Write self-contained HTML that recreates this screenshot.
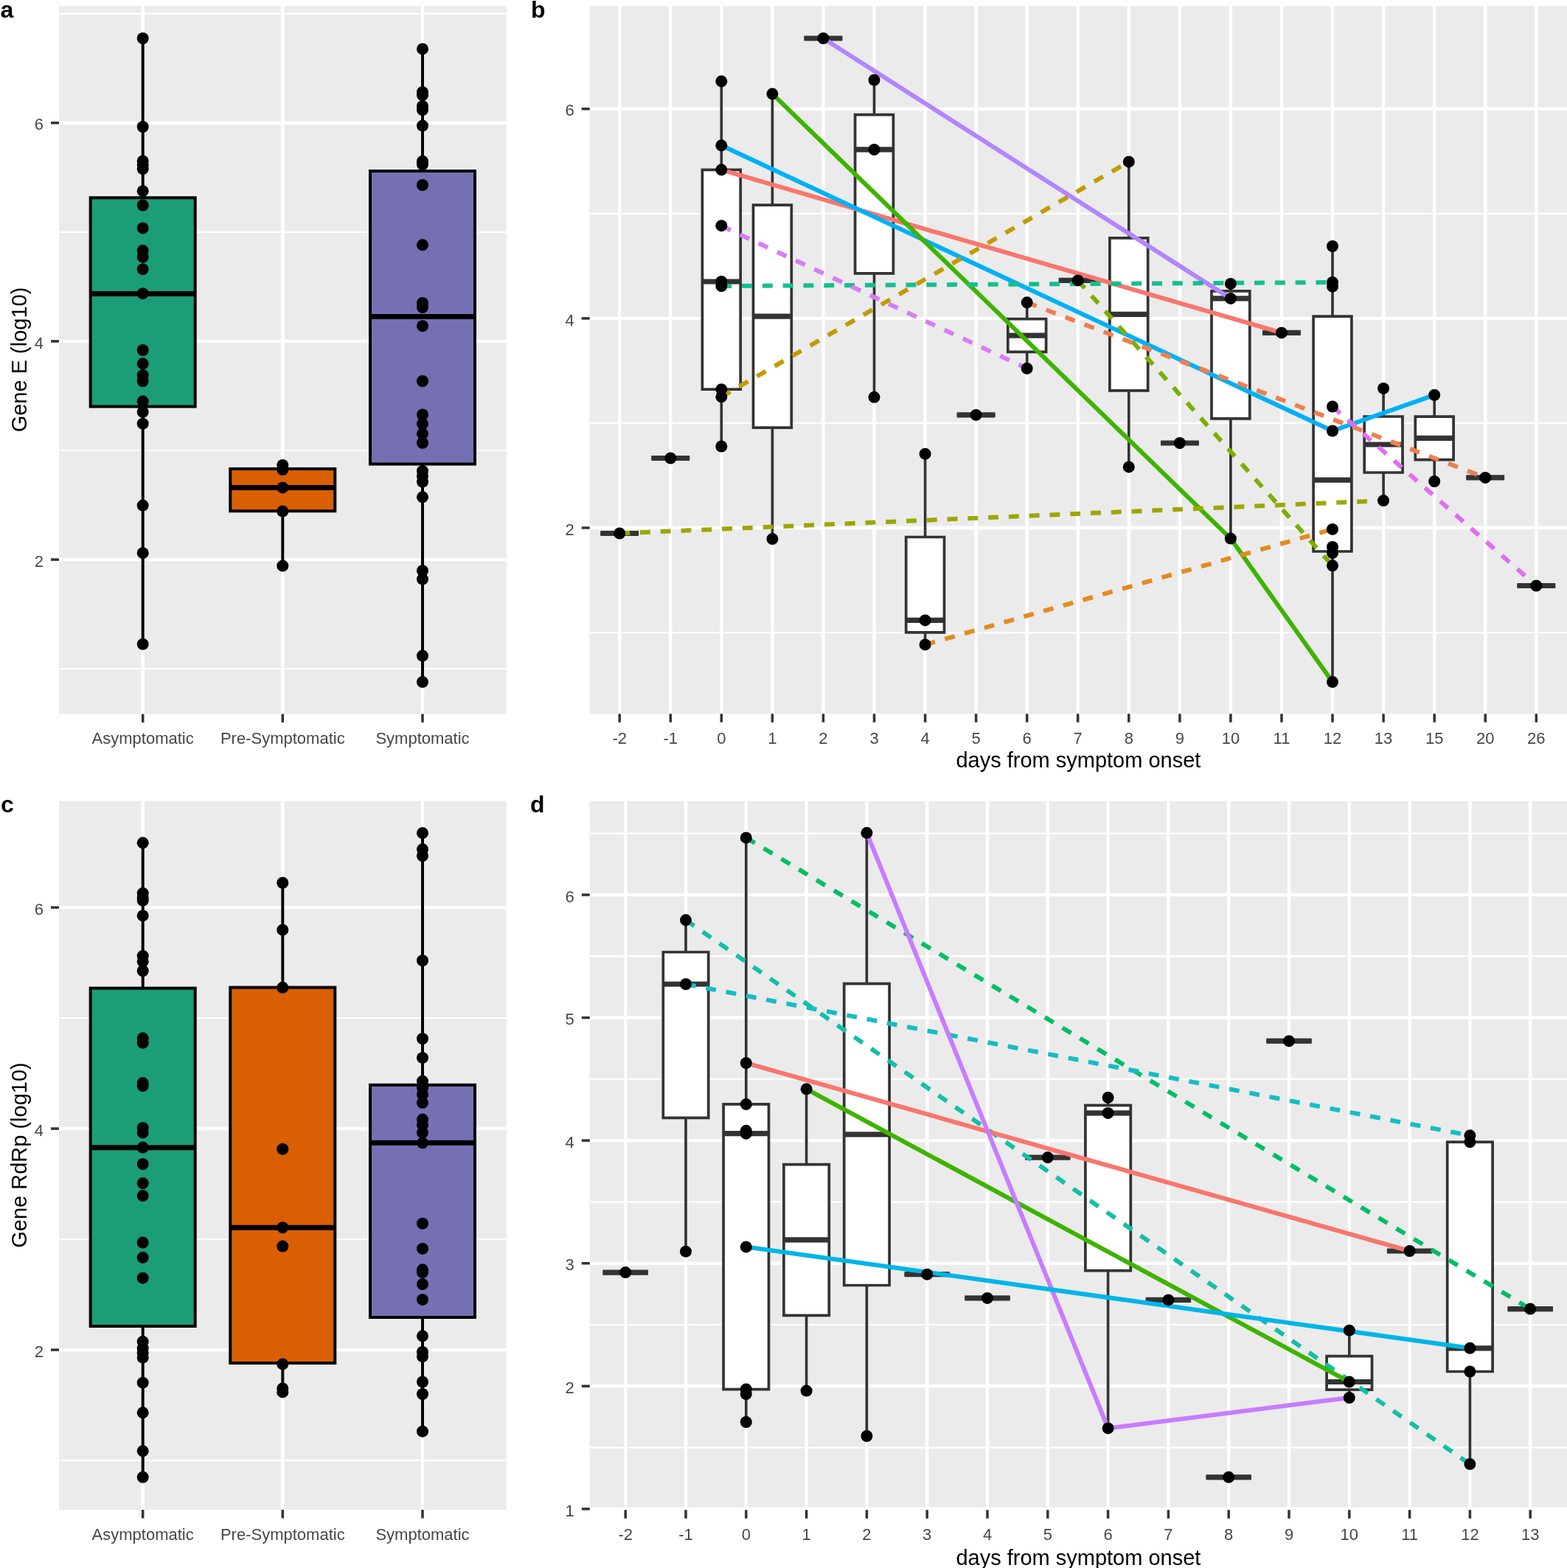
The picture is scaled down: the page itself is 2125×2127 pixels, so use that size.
<!DOCTYPE html><html><head><meta charset="utf-8"><title>Figure</title><style>html,body{margin:0;padding:0;background:#fff;}svg{display:block;}.tk{font-family:"Liberation Sans",Arial,sans-serif;font-size:22px;fill:#474747;}.ti{font-family:"Liberation Sans",Arial,sans-serif;font-size:29px;fill:#000;}.pl{font-family:"Liberation Sans",Arial,sans-serif;font-size:32px;font-weight:bold;fill:#000;}</style></head><body>
<svg width="2125" height="2127" viewBox="0 0 2125 2127">
<rect width="2125" height="2127" fill="#FFFFFF"/>
<defs>
<clipPath id="ca"><rect x="80" y="8" width="606.8" height="960.5"/></clipPath>
<clipPath id="cb"><rect x="799.7" y="8" width="1326.3" height="960.3"/></clipPath>
<clipPath id="cc"><rect x="80" y="1086.6" width="606.6" height="961.4"/></clipPath>
<clipPath id="cd"><rect x="799.8" y="1086.9" width="1326.2" height="961.4"/></clipPath>
</defs>
<text x="0.5" y="24" class="pl">a</text>
<text x="720" y="24" class="pl">b</text>
<text x="1" y="1101.5" class="pl">c</text>
<text x="719" y="1101.5" class="pl">d</text>
<rect x="80" y="8" width="606.8" height="960.5" fill="#EBEBEB"/>
<g clip-path="url(#ca)" stroke="#FFFFFF" fill="none">
<line x1="80" x2="686.8" y1="907.2" y2="907.2" stroke-width="2.2"/>
<line x1="80" x2="686.8" y1="611" y2="611" stroke-width="2.2"/>
<line x1="80" x2="686.8" y1="314.8" y2="314.8" stroke-width="2.2"/>
<line x1="80" x2="686.8" y1="18.6" y2="18.6" stroke-width="2.2"/>
<line x1="80" x2="686.8" y1="759.1" y2="759.1" stroke-width="4.4"/>
<line x1="80" x2="686.8" y1="462.9" y2="462.9" stroke-width="4.4"/>
<line x1="80" x2="686.8" y1="166.7" y2="166.7" stroke-width="4.4"/>
<line x1="193.7" x2="193.7" y1="8" y2="968.5" stroke-width="4.4"/>
<line x1="383.3" x2="383.3" y1="8" y2="968.5" stroke-width="4.4"/>
<line x1="573" x2="573" y1="8" y2="968.5" stroke-width="4.4"/>
</g>
<g clip-path="url(#ca)">
<line x1="193.7" x2="193.7" y1="52" y2="268.2" stroke="#000" stroke-width="4.0"/>
<line x1="193.7" x2="193.7" y1="551.5" y2="873.8" stroke="#000" stroke-width="4.0"/>
<path d="M122.7 268.2H264.7V551.5H122.7Z" fill="#1B9E77" stroke="#000" stroke-width="4.0" stroke-linejoin="miter"/>
<line x1="122.7" x2="264.7" y1="398.5" y2="398.5" stroke="#000" stroke-width="7.0"/>
<line x1="383.3" x2="383.3" y1="631" y2="635.9" stroke="#000" stroke-width="4.0"/>
<line x1="383.3" x2="383.3" y1="693.3" y2="767.6" stroke="#000" stroke-width="4.0"/>
<path d="M312.3 635.9H454.3V693.3H312.3Z" fill="#D95F02" stroke="#000" stroke-width="4.0" stroke-linejoin="miter"/>
<line x1="312.3" x2="454.3" y1="661.4" y2="661.4" stroke="#000" stroke-width="7.0"/>
<line x1="573" x2="573" y1="66.4" y2="231.9" stroke="#000" stroke-width="4.0"/>
<line x1="573" x2="573" y1="629.4" y2="925.1" stroke="#000" stroke-width="4.0"/>
<path d="M502 231.9H644V629.4H502Z" fill="#7570B3" stroke="#000" stroke-width="4.0" stroke-linejoin="miter"/>
<line x1="502" x2="644" y1="429.5" y2="429.5" stroke="#000" stroke-width="7.0"/>
<g fill="#000">
<circle cx="193.7" cy="52" r="8.0"/>
<circle cx="193.7" cy="172" r="8.0"/>
<circle cx="193.7" cy="218.5" r="8.0"/>
<circle cx="193.7" cy="223.5" r="8.0"/>
<circle cx="193.7" cy="229" r="8.0"/>
<circle cx="193.7" cy="259.2" r="8.0"/>
<circle cx="193.7" cy="278.5" r="8.0"/>
<circle cx="193.7" cy="309.4" r="8.0"/>
<circle cx="193.7" cy="339.8" r="8.0"/>
<circle cx="193.7" cy="348.7" r="8.0"/>
<circle cx="193.7" cy="365.2" r="8.0"/>
<circle cx="193.7" cy="398.2" r="8.0"/>
<circle cx="193.7" cy="475" r="8.0"/>
<circle cx="193.7" cy="493.3" r="8.0"/>
<circle cx="193.7" cy="509" r="8.0"/>
<circle cx="193.7" cy="517" r="8.0"/>
<circle cx="193.7" cy="544.3" r="8.0"/>
<circle cx="193.7" cy="558.8" r="8.0"/>
<circle cx="193.7" cy="574.7" r="8.0"/>
<circle cx="193.7" cy="685.6" r="8.0"/>
<circle cx="193.7" cy="750.2" r="8.0"/>
<circle cx="193.7" cy="873.8" r="8.0"/>
<circle cx="383.3" cy="631" r="8.0"/>
<circle cx="383.3" cy="637" r="8.0"/>
<circle cx="383.3" cy="661.4" r="8.0"/>
<circle cx="383.3" cy="693.5" r="8.0"/>
<circle cx="383.3" cy="767.6" r="8.0"/>
<circle cx="573" cy="66.4" r="8.0"/>
<circle cx="573" cy="125" r="8.0"/>
<circle cx="573" cy="129" r="8.0"/>
<circle cx="573" cy="144" r="8.0"/>
<circle cx="573" cy="149" r="8.0"/>
<circle cx="573" cy="170.6" r="8.0"/>
<circle cx="573" cy="218.8" r="8.0"/>
<circle cx="573" cy="223" r="8.0"/>
<circle cx="573" cy="251" r="8.0"/>
<circle cx="573" cy="332.3" r="8.0"/>
<circle cx="573" cy="411" r="8.0"/>
<circle cx="573" cy="417" r="8.0"/>
<circle cx="573" cy="442.2" r="8.0"/>
<circle cx="573" cy="517" r="8.0"/>
<circle cx="573" cy="562.5" r="8.0"/>
<circle cx="573" cy="574.9" r="8.0"/>
<circle cx="573" cy="588.3" r="8.0"/>
<circle cx="573" cy="600.8" r="8.0"/>
<circle cx="573" cy="639" r="8.0"/>
<circle cx="573" cy="646" r="8.0"/>
<circle cx="573" cy="653.6" r="8.0"/>
<circle cx="573" cy="674.3" r="8.0"/>
<circle cx="573" cy="774.2" r="8.0"/>
<circle cx="573" cy="785.6" r="8.0"/>
<circle cx="573" cy="889.6" r="8.0"/>
<circle cx="573" cy="925.1" r="8.0"/>
</g></g>
<line x1="69" x2="80" y1="166.7" y2="166.7" stroke="#333333" stroke-width="3.5"/>
<text x="59" y="176.4" text-anchor="end" class="tk">6</text>
<line x1="69" x2="80" y1="462.9" y2="462.9" stroke="#333333" stroke-width="3.5"/>
<text x="59" y="472.6" text-anchor="end" class="tk">4</text>
<line x1="69" x2="80" y1="759.1" y2="759.1" stroke="#333333" stroke-width="3.5"/>
<text x="59" y="768.8" text-anchor="end" class="tk">2</text>
<line x1="193.7" x2="193.7" y1="968.5" y2="980" stroke="#333333" stroke-width="3.5"/>
<text x="193.7" y="1009" text-anchor="middle" class="tk">Asymptomatic</text>
<line x1="383.3" x2="383.3" y1="968.5" y2="980" stroke="#333333" stroke-width="3.5"/>
<text x="383.3" y="1009" text-anchor="middle" class="tk">Pre-Symptomatic</text>
<line x1="573" x2="573" y1="968.5" y2="980" stroke="#333333" stroke-width="3.5"/>
<text x="573" y="1009" text-anchor="middle" class="tk">Symptomatic</text>
<text class="ti" text-anchor="middle" transform="translate(35.5 488) rotate(-90)">Gene E (log10)</text>
<rect x="80" y="1086.6" width="606.6" height="961.4" fill="#EBEBEB"/>
<g clip-path="url(#cc)" stroke="#FFFFFF" fill="none">
<line x1="80" x2="686.6" y1="1981.1" y2="1981.1" stroke-width="2.2"/>
<line x1="80" x2="686.6" y1="1681.1" y2="1681.1" stroke-width="2.2"/>
<line x1="80" x2="686.6" y1="1381" y2="1381" stroke-width="2.2"/>
<line x1="80" x2="686.6" y1="1081" y2="1081" stroke-width="2.2"/>
<line x1="80" x2="686.6" y1="1831.1" y2="1831.1" stroke-width="4.4"/>
<line x1="80" x2="686.6" y1="1531" y2="1531" stroke-width="4.4"/>
<line x1="80" x2="686.6" y1="1231" y2="1231" stroke-width="4.4"/>
<line x1="193.7" x2="193.7" y1="1086.6" y2="2048" stroke-width="4.4"/>
<line x1="383.3" x2="383.3" y1="1086.6" y2="2048" stroke-width="4.4"/>
<line x1="573" x2="573" y1="1086.6" y2="2048" stroke-width="4.4"/>
</g>
<g clip-path="url(#cc)">
<line x1="193.7" x2="193.7" y1="1143.3" y2="1340.6" stroke="#000" stroke-width="4.0"/>
<line x1="193.7" x2="193.7" y1="1799" y2="2003.8" stroke="#000" stroke-width="4.0"/>
<path d="M122.7 1340.6H264.7V1799H122.7Z" fill="#1B9E77" stroke="#000" stroke-width="4.0" stroke-linejoin="miter"/>
<line x1="122.7" x2="264.7" y1="1556.8" y2="1556.8" stroke="#000" stroke-width="7.0"/>
<line x1="383.3" x2="383.3" y1="1197.5" y2="1339.6" stroke="#000" stroke-width="4.0"/>
<line x1="383.3" x2="383.3" y1="1849.1" y2="1888.4" stroke="#000" stroke-width="4.0"/>
<path d="M312.3 1339.6H454.3V1849.1H312.3Z" fill="#D95F02" stroke="#000" stroke-width="4.0" stroke-linejoin="miter"/>
<line x1="312.3" x2="454.3" y1="1665.2" y2="1665.2" stroke="#000" stroke-width="7.0"/>
<line x1="573" x2="573" y1="1130.1" y2="1471.7" stroke="#000" stroke-width="4.0"/>
<line x1="573" x2="573" y1="1787" y2="1941.7" stroke="#000" stroke-width="4.0"/>
<path d="M502 1471.7H644V1787H502Z" fill="#7570B3" stroke="#000" stroke-width="4.0" stroke-linejoin="miter"/>
<line x1="502" x2="644" y1="1550.3" y2="1550.3" stroke="#000" stroke-width="7.0"/>
<g fill="#000">
<circle cx="193.7" cy="1143.3" r="8.0"/>
<circle cx="193.7" cy="1211.7" r="8.0"/>
<circle cx="193.7" cy="1218" r="8.0"/>
<circle cx="193.7" cy="1221.5" r="8.0"/>
<circle cx="193.7" cy="1242.2" r="8.0"/>
<circle cx="193.7" cy="1296.7" r="8.0"/>
<circle cx="193.7" cy="1304.3" r="8.0"/>
<circle cx="193.7" cy="1317" r="8.0"/>
<circle cx="193.7" cy="1408.3" r="8.0"/>
<circle cx="193.7" cy="1414.6" r="8.0"/>
<circle cx="193.7" cy="1469.1" r="8.0"/>
<circle cx="193.7" cy="1473" r="8.0"/>
<circle cx="193.7" cy="1530" r="8.0"/>
<circle cx="193.7" cy="1536.4" r="8.0"/>
<circle cx="193.7" cy="1556.6" r="8.0"/>
<circle cx="193.7" cy="1579" r="8.0"/>
<circle cx="193.7" cy="1605.1" r="8.0"/>
<circle cx="193.7" cy="1622.1" r="8.0"/>
<circle cx="193.7" cy="1685.5" r="8.0"/>
<circle cx="193.7" cy="1705.8" r="8.0"/>
<circle cx="193.7" cy="1733.7" r="8.0"/>
<circle cx="193.7" cy="1820" r="8.0"/>
<circle cx="193.7" cy="1828.8" r="8.0"/>
<circle cx="193.7" cy="1835.2" r="8.0"/>
<circle cx="193.7" cy="1841.5" r="8.0"/>
<circle cx="193.7" cy="1875.7" r="8.0"/>
<circle cx="193.7" cy="1916.3" r="8.0"/>
<circle cx="193.7" cy="1968.3" r="8.0"/>
<circle cx="193.7" cy="2003.8" r="8.0"/>
<circle cx="383.3" cy="1197.5" r="8.0"/>
<circle cx="383.3" cy="1261.4" r="8.0"/>
<circle cx="383.3" cy="1339.6" r="8.0"/>
<circle cx="383.3" cy="1558.7" r="8.0"/>
<circle cx="383.3" cy="1665.2" r="8.0"/>
<circle cx="383.3" cy="1690.6" r="8.0"/>
<circle cx="383.3" cy="1850.4" r="8.0"/>
<circle cx="383.3" cy="1883.4" r="8.0"/>
<circle cx="383.3" cy="1888.4" r="8.0"/>
<circle cx="573" cy="1130.1" r="8.0"/>
<circle cx="573" cy="1152.1" r="8.0"/>
<circle cx="573" cy="1161" r="8.0"/>
<circle cx="573" cy="1303" r="8.0"/>
<circle cx="573" cy="1409" r="8.0"/>
<circle cx="573" cy="1434.9" r="8.0"/>
<circle cx="573" cy="1466.6" r="8.0"/>
<circle cx="573" cy="1475.5" r="8.0"/>
<circle cx="573" cy="1484.4" r="8.0"/>
<circle cx="573" cy="1495.8" r="8.0"/>
<circle cx="573" cy="1518.6" r="8.0"/>
<circle cx="573" cy="1526.2" r="8.0"/>
<circle cx="573" cy="1536.4" r="8.0"/>
<circle cx="573" cy="1550.3" r="8.0"/>
<circle cx="573" cy="1659.7" r="8.0"/>
<circle cx="573" cy="1693.9" r="8.0"/>
<circle cx="573" cy="1722.3" r="8.0"/>
<circle cx="573" cy="1726.1" r="8.0"/>
<circle cx="573" cy="1742.1" r="8.0"/>
<circle cx="573" cy="1762.9" r="8.0"/>
<circle cx="573" cy="1812.3" r="8.0"/>
<circle cx="573" cy="1833.9" r="8.0"/>
<circle cx="573" cy="1840.2" r="8.0"/>
<circle cx="573" cy="1874.5" r="8.0"/>
<circle cx="573" cy="1891" r="8.0"/>
<circle cx="573" cy="1941.7" r="8.0"/>
</g></g>
<line x1="69" x2="80" y1="1231" y2="1231" stroke="#333333" stroke-width="3.5"/>
<text x="59" y="1240.7" text-anchor="end" class="tk">6</text>
<line x1="69" x2="80" y1="1531" y2="1531" stroke="#333333" stroke-width="3.5"/>
<text x="59" y="1540.7" text-anchor="end" class="tk">4</text>
<line x1="69" x2="80" y1="1831.1" y2="1831.1" stroke="#333333" stroke-width="3.5"/>
<text x="59" y="1840.8" text-anchor="end" class="tk">2</text>
<line x1="193.7" x2="193.7" y1="2048" y2="2059.5" stroke="#333333" stroke-width="3.5"/>
<text x="193.7" y="2088.5" text-anchor="middle" class="tk">Asymptomatic</text>
<line x1="383.3" x2="383.3" y1="2048" y2="2059.5" stroke="#333333" stroke-width="3.5"/>
<text x="383.3" y="2088.5" text-anchor="middle" class="tk">Pre-Symptomatic</text>
<line x1="573" x2="573" y1="2048" y2="2059.5" stroke="#333333" stroke-width="3.5"/>
<text x="573" y="2088.5" text-anchor="middle" class="tk">Symptomatic</text>
<text class="ti" text-anchor="middle" transform="translate(35.5 1567) rotate(-90)">Gene RdRp (log10)</text>
<rect x="799.7" y="8" width="1326.3" height="960.3" fill="#EBEBEB"/>
<g clip-path="url(#cb)" stroke="#FFFFFF" fill="none">
<line x1="799.7" x2="2126" y1="858.1" y2="858.1" stroke-width="2.2"/>
<line x1="799.7" x2="2126" y1="573.9" y2="573.9" stroke-width="2.2"/>
<line x1="799.7" x2="2126" y1="289.8" y2="289.8" stroke-width="2.2"/>
<line x1="799.7" x2="2126" y1="5.6" y2="5.6" stroke-width="2.2"/>
<line x1="799.7" x2="2126" y1="716" y2="716" stroke-width="4.4"/>
<line x1="799.7" x2="2126" y1="431.9" y2="431.9" stroke-width="4.4"/>
<line x1="799.7" x2="2126" y1="147.7" y2="147.7" stroke-width="4.4"/>
<line x1="840.2" x2="840.2" y1="8" y2="968.3" stroke-width="4.4"/>
<line x1="909.3" x2="909.3" y1="8" y2="968.3" stroke-width="4.4"/>
<line x1="978.3" x2="978.3" y1="8" y2="968.3" stroke-width="4.4"/>
<line x1="1047.4" x2="1047.4" y1="8" y2="968.3" stroke-width="4.4"/>
<line x1="1116.4" x2="1116.4" y1="8" y2="968.3" stroke-width="4.4"/>
<line x1="1185.5" x2="1185.5" y1="8" y2="968.3" stroke-width="4.4"/>
<line x1="1254.6" x2="1254.6" y1="8" y2="968.3" stroke-width="4.4"/>
<line x1="1323.6" x2="1323.6" y1="8" y2="968.3" stroke-width="4.4"/>
<line x1="1392.7" x2="1392.7" y1="8" y2="968.3" stroke-width="4.4"/>
<line x1="1461.7" x2="1461.7" y1="8" y2="968.3" stroke-width="4.4"/>
<line x1="1530.8" x2="1530.8" y1="8" y2="968.3" stroke-width="4.4"/>
<line x1="1599.9" x2="1599.9" y1="8" y2="968.3" stroke-width="4.4"/>
<line x1="1668.9" x2="1668.9" y1="8" y2="968.3" stroke-width="4.4"/>
<line x1="1738" x2="1738" y1="8" y2="968.3" stroke-width="4.4"/>
<line x1="1807" x2="1807" y1="8" y2="968.3" stroke-width="4.4"/>
<line x1="1876.1" x2="1876.1" y1="8" y2="968.3" stroke-width="4.4"/>
<line x1="1945.2" x2="1945.2" y1="8" y2="968.3" stroke-width="4.4"/>
<line x1="2014.2" x2="2014.2" y1="8" y2="968.3" stroke-width="4.4"/>
<line x1="2083.3" x2="2083.3" y1="8" y2="968.3" stroke-width="4.4"/>
</g>
<g clip-path="url(#cb)">
<path d="M814.3 723.5H866.1V723.5H814.3Z" fill="#FFFFFF" stroke="#333333" stroke-width="3.7" stroke-linejoin="miter"/>
<line x1="814.3" x2="866.1" y1="723.5" y2="723.5" stroke="#333333" stroke-width="7.2"/>
<path d="M883.4 621.5H935.2V621.5H883.4Z" fill="#FFFFFF" stroke="#333333" stroke-width="3.7" stroke-linejoin="miter"/>
<line x1="883.4" x2="935.2" y1="621.5" y2="621.5" stroke="#333333" stroke-width="7.2"/>
<line x1="978.3" x2="978.3" y1="110.3" y2="230.3" stroke="#333333" stroke-width="3.7"/>
<line x1="978.3" x2="978.3" y1="528.2" y2="605.5" stroke="#333333" stroke-width="3.7"/>
<path d="M952.4 230.3H1004.2V528.2H952.4Z" fill="#FFFFFF" stroke="#333333" stroke-width="3.7" stroke-linejoin="miter"/>
<line x1="952.4" x2="1004.2" y1="382" y2="382" stroke="#333333" stroke-width="7.2"/>
<line x1="1047.4" x2="1047.4" y1="127.3" y2="278.2" stroke="#333333" stroke-width="3.7"/>
<line x1="1047.4" x2="1047.4" y1="580.1" y2="731.1" stroke="#333333" stroke-width="3.7"/>
<path d="M1021.5 278.2H1073.3V580.1H1021.5Z" fill="#FFFFFF" stroke="#333333" stroke-width="3.7" stroke-linejoin="miter"/>
<line x1="1021.5" x2="1073.3" y1="429.2" y2="429.2" stroke="#333333" stroke-width="7.2"/>
<path d="M1090.5 52H1142.3V52H1090.5Z" fill="#FFFFFF" stroke="#333333" stroke-width="3.7" stroke-linejoin="miter"/>
<line x1="1090.5" x2="1142.3" y1="52" y2="52" stroke="#333333" stroke-width="7.2"/>
<line x1="1185.5" x2="1185.5" y1="108.5" y2="155.7" stroke="#333333" stroke-width="3.7"/>
<line x1="1185.5" x2="1185.5" y1="370.9" y2="538.8" stroke="#333333" stroke-width="3.7"/>
<path d="M1159.6 155.7H1211.4V370.9H1159.6Z" fill="#FFFFFF" stroke="#333333" stroke-width="3.7" stroke-linejoin="miter"/>
<line x1="1159.6" x2="1211.4" y1="202.9" y2="202.9" stroke="#333333" stroke-width="7.2"/>
<line x1="1254.6" x2="1254.6" y1="615.7" y2="728.5" stroke="#333333" stroke-width="3.7"/>
<line x1="1254.6" x2="1254.6" y1="857.9" y2="874.4" stroke="#333333" stroke-width="3.7"/>
<path d="M1228.7 728.5H1280.5V857.9H1228.7Z" fill="#FFFFFF" stroke="#333333" stroke-width="3.7" stroke-linejoin="miter"/>
<line x1="1228.7" x2="1280.5" y1="841.4" y2="841.4" stroke="#333333" stroke-width="7.2"/>
<path d="M1297.7 562.9H1349.5V562.9H1297.7Z" fill="#FFFFFF" stroke="#333333" stroke-width="3.7" stroke-linejoin="miter"/>
<line x1="1297.7" x2="1349.5" y1="562.9" y2="562.9" stroke="#333333" stroke-width="7.2"/>
<line x1="1392.7" x2="1392.7" y1="410.3" y2="432.7" stroke="#333333" stroke-width="3.7"/>
<line x1="1392.7" x2="1392.7" y1="477.4" y2="499.8" stroke="#333333" stroke-width="3.7"/>
<path d="M1366.8 432.7H1418.6V477.4H1366.8Z" fill="#FFFFFF" stroke="#333333" stroke-width="3.7" stroke-linejoin="miter"/>
<line x1="1366.8" x2="1418.6" y1="455.1" y2="455.1" stroke="#333333" stroke-width="7.2"/>
<path d="M1435.8 380.4H1487.6V380.4H1435.8Z" fill="#FFFFFF" stroke="#333333" stroke-width="3.7" stroke-linejoin="miter"/>
<line x1="1435.8" x2="1487.6" y1="380.4" y2="380.4" stroke="#333333" stroke-width="7.2"/>
<line x1="1530.8" x2="1530.8" y1="219.4" y2="322.9" stroke="#333333" stroke-width="3.7"/>
<line x1="1530.8" x2="1530.8" y1="529.9" y2="633.4" stroke="#333333" stroke-width="3.7"/>
<path d="M1504.9 322.9H1556.7V529.9H1504.9Z" fill="#FFFFFF" stroke="#333333" stroke-width="3.7" stroke-linejoin="miter"/>
<line x1="1504.9" x2="1556.7" y1="426.4" y2="426.4" stroke="#333333" stroke-width="7.2"/>
<path d="M1574 601H1625.8V601H1574Z" fill="#FFFFFF" stroke="#333333" stroke-width="3.7" stroke-linejoin="miter"/>
<line x1="1574" x2="1625.8" y1="601" y2="601" stroke="#333333" stroke-width="7.2"/>
<line x1="1668.9" x2="1668.9" y1="384.9" y2="394.9" stroke="#333333" stroke-width="3.7"/>
<line x1="1668.9" x2="1668.9" y1="567.8" y2="730.6" stroke="#333333" stroke-width="3.7"/>
<path d="M1643 394.9H1694.8V567.8H1643Z" fill="#FFFFFF" stroke="#333333" stroke-width="3.7" stroke-linejoin="miter"/>
<line x1="1643" x2="1694.8" y1="404.9" y2="404.9" stroke="#333333" stroke-width="7.2"/>
<path d="M1712.1 451.4H1763.9V451.4H1712.1Z" fill="#FFFFFF" stroke="#333333" stroke-width="3.7" stroke-linejoin="miter"/>
<line x1="1712.1" x2="1763.9" y1="451.4" y2="451.4" stroke="#333333" stroke-width="7.2"/>
<line x1="1807" x2="1807" y1="334" y2="429.2" stroke="#333333" stroke-width="3.7"/>
<line x1="1807" x2="1807" y1="748" y2="925.1" stroke="#333333" stroke-width="3.7"/>
<path d="M1781.1 429.2H1832.9V748H1781.1Z" fill="#FFFFFF" stroke="#333333" stroke-width="3.7" stroke-linejoin="miter"/>
<line x1="1781.1" x2="1832.9" y1="651.2" y2="651.2" stroke="#333333" stroke-width="7.2"/>
<line x1="1876.1" x2="1876.1" y1="526.9" y2="565" stroke="#333333" stroke-width="3.7"/>
<line x1="1876.1" x2="1876.1" y1="641" y2="679.1" stroke="#333333" stroke-width="3.7"/>
<path d="M1850.2 565H1902V641H1850.2Z" fill="#FFFFFF" stroke="#333333" stroke-width="3.7" stroke-linejoin="miter"/>
<line x1="1850.2" x2="1902" y1="603" y2="603" stroke="#333333" stroke-width="7.2"/>
<line x1="1945.2" x2="1945.2" y1="535.8" y2="565.1" stroke="#333333" stroke-width="3.7"/>
<line x1="1945.2" x2="1945.2" y1="623.7" y2="653" stroke="#333333" stroke-width="3.7"/>
<path d="M1919.3 565.1H1971.1V623.7H1919.3Z" fill="#FFFFFF" stroke="#333333" stroke-width="3.7" stroke-linejoin="miter"/>
<line x1="1919.3" x2="1971.1" y1="594.4" y2="594.4" stroke="#333333" stroke-width="7.2"/>
<path d="M1988.3 647.9H2040.1V647.9H1988.3Z" fill="#FFFFFF" stroke="#333333" stroke-width="3.7" stroke-linejoin="miter"/>
<line x1="1988.3" x2="2040.1" y1="647.9" y2="647.9" stroke="#333333" stroke-width="7.2"/>
<path d="M2057.4 794.5H2109.2V794.5H2057.4Z" fill="#FFFFFF" stroke="#333333" stroke-width="3.7" stroke-linejoin="miter"/>
<line x1="2057.4" x2="2109.2" y1="794.5" y2="794.5" stroke="#333333" stroke-width="7.2"/>
<path d="M978.3 230.3 L1738 451.4" fill="none" stroke="#F8766D" stroke-width="6.0" stroke-linejoin="round"/>
<path d="M978.3 197.3 L1807 584.5 L1945.2 535.8" fill="none" stroke="#00B0F6" stroke-width="6.0" stroke-linejoin="round"/>
<path d="M1047.4 127.3 L1668.9 730.6 L1807 925.1" fill="none" stroke="#3DB400" stroke-width="6.0" stroke-linejoin="round"/>
<path d="M1116.4 52 L1668.9 404.9" fill="none" stroke="#B385FF" stroke-width="6.0" stroke-linejoin="round"/>
<path d="M978.3 388 L1807 383" fill="none" stroke="#13BF8E" stroke-width="6.0" stroke-linejoin="round" stroke-dasharray="13.9 13.9"/>
<path d="M978.3 538.3 L1530.8 219.4" fill="none" stroke="#C49A00" stroke-width="6.0" stroke-linejoin="round" stroke-dasharray="13.9 13.9"/>
<path d="M840.2 723.5 L1876.1 679.1" fill="none" stroke="#9CA700" stroke-width="6.0" stroke-linejoin="round" stroke-dasharray="13.9 13.9"/>
<path d="M1461.7 380.4 L1807 767.3" fill="none" stroke="#7CAE00" stroke-width="6.0" stroke-linejoin="round" stroke-dasharray="13.9 13.9"/>
<path d="M1254.6 874.4 L1807 717.9" fill="none" stroke="#E58A1E" stroke-width="6.0" stroke-linejoin="round" stroke-dasharray="13.9 13.9"/>
<path d="M1392.7 410.3 L2014.2 647.9" fill="none" stroke="#EF7E4E" stroke-width="6.0" stroke-linejoin="round" stroke-dasharray="13.9 13.9"/>
<path d="M978.3 306.4 L1392.7 499.8" fill="none" stroke="#D97CF5" stroke-width="6.0" stroke-linejoin="round" stroke-dasharray="13.9 13.9"/>
<path d="M1807 551.5 L2083.3 794.5" fill="none" stroke="#E26CF0" stroke-width="6.0" stroke-linejoin="round" stroke-dasharray="13.9 13.9"/>
<g fill="#000">
<circle cx="840.2" cy="723.5" r="8.0"/>
<circle cx="909.3" cy="621.5" r="8.0"/>
<circle cx="978.3" cy="110.3" r="8.0"/>
<circle cx="978.3" cy="197.3" r="8.0"/>
<circle cx="978.3" cy="230.3" r="8.0"/>
<circle cx="978.3" cy="306.2" r="8.0"/>
<circle cx="978.3" cy="382" r="8.0"/>
<circle cx="978.3" cy="388" r="8.0"/>
<circle cx="978.3" cy="528.2" r="8.0"/>
<circle cx="978.3" cy="538.3" r="8.0"/>
<circle cx="978.3" cy="605.5" r="8.0"/>
<circle cx="1047.4" cy="127.3" r="8.0"/>
<circle cx="1047.4" cy="731.1" r="8.0"/>
<circle cx="1116.4" cy="52" r="8.0"/>
<circle cx="1185.5" cy="108.5" r="8.0"/>
<circle cx="1185.5" cy="202.9" r="8.0"/>
<circle cx="1185.5" cy="538.8" r="8.0"/>
<circle cx="1254.6" cy="615.7" r="8.0"/>
<circle cx="1254.6" cy="841.4" r="8.0"/>
<circle cx="1254.6" cy="874.4" r="8.0"/>
<circle cx="1323.6" cy="562.9" r="8.0"/>
<circle cx="1392.7" cy="410.3" r="8.0"/>
<circle cx="1392.7" cy="499.8" r="8.0"/>
<circle cx="1461.7" cy="380.4" r="8.0"/>
<circle cx="1530.8" cy="219.4" r="8.0"/>
<circle cx="1530.8" cy="633.4" r="8.0"/>
<circle cx="1599.9" cy="601" r="8.0"/>
<circle cx="1668.9" cy="384.9" r="8.0"/>
<circle cx="1668.9" cy="404.9" r="8.0"/>
<circle cx="1668.9" cy="730.6" r="8.0"/>
<circle cx="1738" cy="451.4" r="8.0"/>
<circle cx="1807" cy="334" r="8.0"/>
<circle cx="1807" cy="383" r="8.0"/>
<circle cx="1807" cy="388.5" r="8.0"/>
<circle cx="1807" cy="551.5" r="8.0"/>
<circle cx="1807" cy="584.5" r="8.0"/>
<circle cx="1807" cy="717.9" r="8.0"/>
<circle cx="1807" cy="742" r="8.0"/>
<circle cx="1807" cy="750" r="8.0"/>
<circle cx="1807" cy="767.3" r="8.0"/>
<circle cx="1807" cy="925.1" r="8.0"/>
<circle cx="1876.1" cy="526.9" r="8.0"/>
<circle cx="1876.1" cy="679.1" r="8.0"/>
<circle cx="1945.2" cy="535.8" r="8.0"/>
<circle cx="1945.2" cy="653" r="8.0"/>
<circle cx="2014.2" cy="647.9" r="8.0"/>
<circle cx="2083.3" cy="794.5" r="8.0"/>
</g></g>
<line x1="788.7" x2="799.7" y1="147.7" y2="147.7" stroke="#333333" stroke-width="3.5"/>
<text x="778.7" y="157.4" text-anchor="end" class="tk">6</text>
<line x1="788.7" x2="799.7" y1="431.9" y2="431.9" stroke="#333333" stroke-width="3.5"/>
<text x="778.7" y="441.6" text-anchor="end" class="tk">4</text>
<line x1="788.7" x2="799.7" y1="716" y2="716" stroke="#333333" stroke-width="3.5"/>
<text x="778.7" y="725.7" text-anchor="end" class="tk">2</text>
<line x1="840.2" x2="840.2" y1="968.3" y2="979.8" stroke="#333333" stroke-width="3.5"/>
<text x="840.2" y="1008.8" text-anchor="middle" class="tk">-2</text>
<line x1="909.3" x2="909.3" y1="968.3" y2="979.8" stroke="#333333" stroke-width="3.5"/>
<text x="909.3" y="1008.8" text-anchor="middle" class="tk">-1</text>
<line x1="978.3" x2="978.3" y1="968.3" y2="979.8" stroke="#333333" stroke-width="3.5"/>
<text x="978.3" y="1008.8" text-anchor="middle" class="tk">0</text>
<line x1="1047.4" x2="1047.4" y1="968.3" y2="979.8" stroke="#333333" stroke-width="3.5"/>
<text x="1047.4" y="1008.8" text-anchor="middle" class="tk">1</text>
<line x1="1116.4" x2="1116.4" y1="968.3" y2="979.8" stroke="#333333" stroke-width="3.5"/>
<text x="1116.4" y="1008.8" text-anchor="middle" class="tk">2</text>
<line x1="1185.5" x2="1185.5" y1="968.3" y2="979.8" stroke="#333333" stroke-width="3.5"/>
<text x="1185.5" y="1008.8" text-anchor="middle" class="tk">3</text>
<line x1="1254.6" x2="1254.6" y1="968.3" y2="979.8" stroke="#333333" stroke-width="3.5"/>
<text x="1254.6" y="1008.8" text-anchor="middle" class="tk">4</text>
<line x1="1323.6" x2="1323.6" y1="968.3" y2="979.8" stroke="#333333" stroke-width="3.5"/>
<text x="1323.6" y="1008.8" text-anchor="middle" class="tk">5</text>
<line x1="1392.7" x2="1392.7" y1="968.3" y2="979.8" stroke="#333333" stroke-width="3.5"/>
<text x="1392.7" y="1008.8" text-anchor="middle" class="tk">6</text>
<line x1="1461.7" x2="1461.7" y1="968.3" y2="979.8" stroke="#333333" stroke-width="3.5"/>
<text x="1461.7" y="1008.8" text-anchor="middle" class="tk">7</text>
<line x1="1530.8" x2="1530.8" y1="968.3" y2="979.8" stroke="#333333" stroke-width="3.5"/>
<text x="1530.8" y="1008.8" text-anchor="middle" class="tk">8</text>
<line x1="1599.9" x2="1599.9" y1="968.3" y2="979.8" stroke="#333333" stroke-width="3.5"/>
<text x="1599.9" y="1008.8" text-anchor="middle" class="tk">9</text>
<line x1="1668.9" x2="1668.9" y1="968.3" y2="979.8" stroke="#333333" stroke-width="3.5"/>
<text x="1668.9" y="1008.8" text-anchor="middle" class="tk">10</text>
<line x1="1738" x2="1738" y1="968.3" y2="979.8" stroke="#333333" stroke-width="3.5"/>
<text x="1738" y="1008.8" text-anchor="middle" class="tk">11</text>
<line x1="1807" x2="1807" y1="968.3" y2="979.8" stroke="#333333" stroke-width="3.5"/>
<text x="1807" y="1008.8" text-anchor="middle" class="tk">12</text>
<line x1="1876.1" x2="1876.1" y1="968.3" y2="979.8" stroke="#333333" stroke-width="3.5"/>
<text x="1876.1" y="1008.8" text-anchor="middle" class="tk">13</text>
<line x1="1945.2" x2="1945.2" y1="968.3" y2="979.8" stroke="#333333" stroke-width="3.5"/>
<text x="1945.2" y="1008.8" text-anchor="middle" class="tk">15</text>
<line x1="2014.2" x2="2014.2" y1="968.3" y2="979.8" stroke="#333333" stroke-width="3.5"/>
<text x="2014.2" y="1008.8" text-anchor="middle" class="tk">20</text>
<line x1="2083.3" x2="2083.3" y1="968.3" y2="979.8" stroke="#333333" stroke-width="3.5"/>
<text x="2083.3" y="1008.8" text-anchor="middle" class="tk">26</text>
<text class="ti" text-anchor="middle" x="1462.4" y="1041.3">days from symptom onset</text>
<rect x="799.8" y="1086.9" width="1326.2" height="961.4" fill="#EBEBEB"/>
<g clip-path="url(#cd)" stroke="#FFFFFF" fill="none">
<line x1="799.8" x2="2126" y1="1963.6" y2="1963.6" stroke-width="2.2"/>
<line x1="799.8" x2="2126" y1="1797" y2="1797" stroke-width="2.2"/>
<line x1="799.8" x2="2126" y1="1630.4" y2="1630.4" stroke-width="2.2"/>
<line x1="799.8" x2="2126" y1="1463.8" y2="1463.8" stroke-width="2.2"/>
<line x1="799.8" x2="2126" y1="1297.2" y2="1297.2" stroke-width="2.2"/>
<line x1="799.8" x2="2126" y1="1130.6" y2="1130.6" stroke-width="2.2"/>
<line x1="799.8" x2="2126" y1="2046.9" y2="2046.9" stroke-width="4.4"/>
<line x1="799.8" x2="2126" y1="1880.3" y2="1880.3" stroke-width="4.4"/>
<line x1="799.8" x2="2126" y1="1713.7" y2="1713.7" stroke-width="4.4"/>
<line x1="799.8" x2="2126" y1="1547.1" y2="1547.1" stroke-width="4.4"/>
<line x1="799.8" x2="2126" y1="1380.5" y2="1380.5" stroke-width="4.4"/>
<line x1="799.8" x2="2126" y1="1213.9" y2="1213.9" stroke-width="4.4"/>
<line x1="848.2" x2="848.2" y1="1086.9" y2="2048.3" stroke-width="4.4"/>
<line x1="930" x2="930" y1="1086.9" y2="2048.3" stroke-width="4.4"/>
<line x1="1011.8" x2="1011.8" y1="1086.9" y2="2048.3" stroke-width="4.4"/>
<line x1="1093.6" x2="1093.6" y1="1086.9" y2="2048.3" stroke-width="4.4"/>
<line x1="1175.4" x2="1175.4" y1="1086.9" y2="2048.3" stroke-width="4.4"/>
<line x1="1257.2" x2="1257.2" y1="1086.9" y2="2048.3" stroke-width="4.4"/>
<line x1="1339" x2="1339" y1="1086.9" y2="2048.3" stroke-width="4.4"/>
<line x1="1420.8" x2="1420.8" y1="1086.9" y2="2048.3" stroke-width="4.4"/>
<line x1="1502.6" x2="1502.6" y1="1086.9" y2="2048.3" stroke-width="4.4"/>
<line x1="1584.4" x2="1584.4" y1="1086.9" y2="2048.3" stroke-width="4.4"/>
<line x1="1666.2" x2="1666.2" y1="1086.9" y2="2048.3" stroke-width="4.4"/>
<line x1="1748" x2="1748" y1="1086.9" y2="2048.3" stroke-width="4.4"/>
<line x1="1829.8" x2="1829.8" y1="1086.9" y2="2048.3" stroke-width="4.4"/>
<line x1="1911.6" x2="1911.6" y1="1086.9" y2="2048.3" stroke-width="4.4"/>
<line x1="1993.4" x2="1993.4" y1="1086.9" y2="2048.3" stroke-width="4.4"/>
<line x1="2075.2" x2="2075.2" y1="1086.9" y2="2048.3" stroke-width="4.4"/>
</g>
<g clip-path="url(#cd)">
<path d="M817.5 1726.1H878.9V1726.1H817.5Z" fill="#FFFFFF" stroke="#333333" stroke-width="3.7" stroke-linejoin="miter"/>
<line x1="817.5" x2="878.9" y1="1726.1" y2="1726.1" stroke="#333333" stroke-width="7.2"/>
<line x1="930" x2="930" y1="1248.1" y2="1291.5" stroke="#333333" stroke-width="3.7"/>
<line x1="930" x2="930" y1="1516.3" y2="1697.7" stroke="#333333" stroke-width="3.7"/>
<path d="M899.3 1291.5H960.7V1516.3H899.3Z" fill="#FFFFFF" stroke="#333333" stroke-width="3.7" stroke-linejoin="miter"/>
<line x1="899.3" x2="960.7" y1="1335" y2="1335" stroke="#333333" stroke-width="7.2"/>
<line x1="1011.8" x2="1011.8" y1="1136.4" y2="1497.9" stroke="#333333" stroke-width="3.7"/>
<line x1="1011.8" x2="1011.8" y1="1884.6" y2="1929" stroke="#333333" stroke-width="3.7"/>
<path d="M981.1 1497.9H1042.5V1884.6H981.1Z" fill="#FFFFFF" stroke="#333333" stroke-width="3.7" stroke-linejoin="miter"/>
<line x1="981.1" x2="1042.5" y1="1537.7" y2="1537.7" stroke="#333333" stroke-width="7.2"/>
<line x1="1093.6" x2="1093.6" y1="1477.3" y2="1579.6" stroke="#333333" stroke-width="3.7"/>
<line x1="1093.6" x2="1093.6" y1="1784.3" y2="1886.6" stroke="#333333" stroke-width="3.7"/>
<path d="M1062.9 1579.6H1124.3V1784.3H1062.9Z" fill="#FFFFFF" stroke="#333333" stroke-width="3.7" stroke-linejoin="miter"/>
<line x1="1062.9" x2="1124.3" y1="1681.9" y2="1681.9" stroke="#333333" stroke-width="7.2"/>
<line x1="1175.4" x2="1175.4" y1="1129.8" y2="1334.3" stroke="#333333" stroke-width="3.7"/>
<line x1="1175.4" x2="1175.4" y1="1743.5" y2="1948" stroke="#333333" stroke-width="3.7"/>
<path d="M1144.7 1334.3H1206.1V1743.5H1144.7Z" fill="#FFFFFF" stroke="#333333" stroke-width="3.7" stroke-linejoin="miter"/>
<line x1="1144.7" x2="1206.1" y1="1538.9" y2="1538.9" stroke="#333333" stroke-width="7.2"/>
<path d="M1226.5 1728.7H1287.9V1728.7H1226.5Z" fill="#FFFFFF" stroke="#333333" stroke-width="3.7" stroke-linejoin="miter"/>
<line x1="1226.5" x2="1287.9" y1="1728.7" y2="1728.7" stroke="#333333" stroke-width="7.2"/>
<path d="M1308.3 1760.9H1369.7V1760.9H1308.3Z" fill="#FFFFFF" stroke="#333333" stroke-width="3.7" stroke-linejoin="miter"/>
<line x1="1308.3" x2="1369.7" y1="1760.9" y2="1760.9" stroke="#333333" stroke-width="7.2"/>
<path d="M1390.1 1570.1H1451.5V1570.1H1390.1Z" fill="#FFFFFF" stroke="#333333" stroke-width="3.7" stroke-linejoin="miter"/>
<line x1="1390.1" x2="1451.5" y1="1570.1" y2="1570.1" stroke="#333333" stroke-width="7.2"/>
<line x1="1502.6" x2="1502.6" y1="1488.8" y2="1499.3" stroke="#333333" stroke-width="3.7"/>
<line x1="1502.6" x2="1502.6" y1="1723.7" y2="1937.4" stroke="#333333" stroke-width="3.7"/>
<path d="M1471.9 1499.3H1533.3V1723.7H1471.9Z" fill="#FFFFFF" stroke="#333333" stroke-width="3.7" stroke-linejoin="miter"/>
<line x1="1471.9" x2="1533.3" y1="1509.9" y2="1509.9" stroke="#333333" stroke-width="7.2"/>
<path d="M1553.7 1763.4H1615.1V1763.4H1553.7Z" fill="#FFFFFF" stroke="#333333" stroke-width="3.7" stroke-linejoin="miter"/>
<line x1="1553.7" x2="1615.1" y1="1763.4" y2="1763.4" stroke="#333333" stroke-width="7.2"/>
<path d="M1635.5 2003.8H1696.9V2003.8H1635.5Z" fill="#FFFFFF" stroke="#333333" stroke-width="3.7" stroke-linejoin="miter"/>
<line x1="1635.5" x2="1696.9" y1="2003.8" y2="2003.8" stroke="#333333" stroke-width="7.2"/>
<path d="M1717.3 1412.2H1778.7V1412.2H1717.3Z" fill="#FFFFFF" stroke="#333333" stroke-width="3.7" stroke-linejoin="miter"/>
<line x1="1717.3" x2="1778.7" y1="1412.2" y2="1412.2" stroke="#333333" stroke-width="7.2"/>
<line x1="1829.8" x2="1829.8" y1="1804.7" y2="1839.6" stroke="#333333" stroke-width="3.7"/>
<line x1="1829.8" x2="1829.8" y1="1885.2" y2="1896" stroke="#333333" stroke-width="3.7"/>
<path d="M1799.1 1839.6H1860.5V1885.2H1799.1Z" fill="#FFFFFF" stroke="#333333" stroke-width="3.7" stroke-linejoin="miter"/>
<line x1="1799.1" x2="1860.5" y1="1874.5" y2="1874.5" stroke="#333333" stroke-width="7.2"/>
<path d="M1880.9 1697H1942.3V1697H1880.9Z" fill="#FFFFFF" stroke="#333333" stroke-width="3.7" stroke-linejoin="miter"/>
<line x1="1880.9" x2="1942.3" y1="1697" y2="1697" stroke="#333333" stroke-width="7.2"/>
<line x1="1993.4" x2="1993.4" y1="1540.3" y2="1549.2" stroke="#333333" stroke-width="3.7"/>
<line x1="1993.4" x2="1993.4" y1="1860.5" y2="1986.1" stroke="#333333" stroke-width="3.7"/>
<path d="M1962.7 1549.2H2024.1V1860.5H1962.7Z" fill="#FFFFFF" stroke="#333333" stroke-width="3.7" stroke-linejoin="miter"/>
<line x1="1962.7" x2="2024.1" y1="1828.8" y2="1828.8" stroke="#333333" stroke-width="7.2"/>
<path d="M2044.5 1775.6H2105.9V1775.6H2044.5Z" fill="#FFFFFF" stroke="#333333" stroke-width="3.7" stroke-linejoin="miter"/>
<line x1="2044.5" x2="2105.9" y1="1775.6" y2="1775.6" stroke="#333333" stroke-width="7.2"/>
<path d="M1011.8 1136.4 L2075.2 1775.6" fill="none" stroke="#00BE67" stroke-width="6.0" stroke-linejoin="round" stroke-dasharray="13.9 13.9"/>
<path d="M930 1248.1 L1993.4 1986.1" fill="none" stroke="#13BFA8" stroke-width="6.0" stroke-linejoin="round" stroke-dasharray="13.9 13.9"/>
<path d="M930 1335 L1993.4 1540.3" fill="none" stroke="#13BDC6" stroke-width="6.0" stroke-linejoin="round" stroke-dasharray="13.9 13.9"/>
<path d="M1011.8 1442 L1911.6 1697" fill="none" stroke="#F8766D" stroke-width="6.0" stroke-linejoin="round"/>
<path d="M1093.6 1477.3 L1829.8 1874.5" fill="none" stroke="#3DB400" stroke-width="6.0" stroke-linejoin="round"/>
<path d="M1175.4 1129.8 L1502.6 1937.4 L1829.8 1896" fill="none" stroke="#C77CFF" stroke-width="6.0" stroke-linejoin="round"/>
<path d="M1011.8 1691.4 L1993.4 1828.8" fill="none" stroke="#00B5E8" stroke-width="6.0" stroke-linejoin="round"/>
<g fill="#000">
<circle cx="848.2" cy="1726.1" r="8.0"/>
<circle cx="930" cy="1248.1" r="8.0"/>
<circle cx="930" cy="1335" r="8.0"/>
<circle cx="930" cy="1697.7" r="8.0"/>
<circle cx="1011.8" cy="1136.4" r="8.0"/>
<circle cx="1011.8" cy="1442" r="8.0"/>
<circle cx="1011.8" cy="1497.9" r="8.0"/>
<circle cx="1011.8" cy="1533.8" r="8.0"/>
<circle cx="1011.8" cy="1537.7" r="8.0"/>
<circle cx="1011.8" cy="1691.4" r="8.0"/>
<circle cx="1011.8" cy="1884.6" r="8.0"/>
<circle cx="1011.8" cy="1891" r="8.0"/>
<circle cx="1011.8" cy="1929" r="8.0"/>
<circle cx="1093.6" cy="1477.3" r="8.0"/>
<circle cx="1093.6" cy="1886.6" r="8.0"/>
<circle cx="1175.4" cy="1129.8" r="8.0"/>
<circle cx="1175.4" cy="1948" r="8.0"/>
<circle cx="1257.2" cy="1728.7" r="8.0"/>
<circle cx="1339" cy="1760.9" r="8.0"/>
<circle cx="1420.8" cy="1570.1" r="8.0"/>
<circle cx="1502.6" cy="1488.8" r="8.0"/>
<circle cx="1502.6" cy="1509.9" r="8.0"/>
<circle cx="1502.6" cy="1937.4" r="8.0"/>
<circle cx="1584.4" cy="1763.4" r="8.0"/>
<circle cx="1666.2" cy="2003.8" r="8.0"/>
<circle cx="1748" cy="1412.2" r="8.0"/>
<circle cx="1829.8" cy="1804.7" r="8.0"/>
<circle cx="1829.8" cy="1874.5" r="8.0"/>
<circle cx="1829.8" cy="1896" r="8.0"/>
<circle cx="1911.6" cy="1697" r="8.0"/>
<circle cx="1993.4" cy="1540.3" r="8.0"/>
<circle cx="1993.4" cy="1549.2" r="8.0"/>
<circle cx="1993.4" cy="1828.8" r="8.0"/>
<circle cx="1993.4" cy="1860.5" r="8.0"/>
<circle cx="1993.4" cy="1986.1" r="8.0"/>
<circle cx="2075.2" cy="1775.6" r="8.0"/>
</g></g>
<line x1="788.8" x2="799.8" y1="1213.9" y2="1213.9" stroke="#333333" stroke-width="3.5"/>
<text x="778.8" y="1223.6" text-anchor="end" class="tk">6</text>
<line x1="788.8" x2="799.8" y1="1380.5" y2="1380.5" stroke="#333333" stroke-width="3.5"/>
<text x="778.8" y="1390.2" text-anchor="end" class="tk">5</text>
<line x1="788.8" x2="799.8" y1="1547.1" y2="1547.1" stroke="#333333" stroke-width="3.5"/>
<text x="778.8" y="1556.8" text-anchor="end" class="tk">4</text>
<line x1="788.8" x2="799.8" y1="1713.7" y2="1713.7" stroke="#333333" stroke-width="3.5"/>
<text x="778.8" y="1723.4" text-anchor="end" class="tk">3</text>
<line x1="788.8" x2="799.8" y1="1880.3" y2="1880.3" stroke="#333333" stroke-width="3.5"/>
<text x="778.8" y="1890" text-anchor="end" class="tk">2</text>
<line x1="788.8" x2="799.8" y1="2046.9" y2="2046.9" stroke="#333333" stroke-width="3.5"/>
<text x="778.8" y="2056.6" text-anchor="end" class="tk">1</text>
<line x1="848.2" x2="848.2" y1="2048.3" y2="2059.8" stroke="#333333" stroke-width="3.5"/>
<text x="848.2" y="2088.8" text-anchor="middle" class="tk">-2</text>
<line x1="930" x2="930" y1="2048.3" y2="2059.8" stroke="#333333" stroke-width="3.5"/>
<text x="930" y="2088.8" text-anchor="middle" class="tk">-1</text>
<line x1="1011.8" x2="1011.8" y1="2048.3" y2="2059.8" stroke="#333333" stroke-width="3.5"/>
<text x="1011.8" y="2088.8" text-anchor="middle" class="tk">0</text>
<line x1="1093.6" x2="1093.6" y1="2048.3" y2="2059.8" stroke="#333333" stroke-width="3.5"/>
<text x="1093.6" y="2088.8" text-anchor="middle" class="tk">1</text>
<line x1="1175.4" x2="1175.4" y1="2048.3" y2="2059.8" stroke="#333333" stroke-width="3.5"/>
<text x="1175.4" y="2088.8" text-anchor="middle" class="tk">2</text>
<line x1="1257.2" x2="1257.2" y1="2048.3" y2="2059.8" stroke="#333333" stroke-width="3.5"/>
<text x="1257.2" y="2088.8" text-anchor="middle" class="tk">3</text>
<line x1="1339" x2="1339" y1="2048.3" y2="2059.8" stroke="#333333" stroke-width="3.5"/>
<text x="1339" y="2088.8" text-anchor="middle" class="tk">4</text>
<line x1="1420.8" x2="1420.8" y1="2048.3" y2="2059.8" stroke="#333333" stroke-width="3.5"/>
<text x="1420.8" y="2088.8" text-anchor="middle" class="tk">5</text>
<line x1="1502.6" x2="1502.6" y1="2048.3" y2="2059.8" stroke="#333333" stroke-width="3.5"/>
<text x="1502.6" y="2088.8" text-anchor="middle" class="tk">6</text>
<line x1="1584.4" x2="1584.4" y1="2048.3" y2="2059.8" stroke="#333333" stroke-width="3.5"/>
<text x="1584.4" y="2088.8" text-anchor="middle" class="tk">7</text>
<line x1="1666.2" x2="1666.2" y1="2048.3" y2="2059.8" stroke="#333333" stroke-width="3.5"/>
<text x="1666.2" y="2088.8" text-anchor="middle" class="tk">8</text>
<line x1="1748" x2="1748" y1="2048.3" y2="2059.8" stroke="#333333" stroke-width="3.5"/>
<text x="1748" y="2088.8" text-anchor="middle" class="tk">9</text>
<line x1="1829.8" x2="1829.8" y1="2048.3" y2="2059.8" stroke="#333333" stroke-width="3.5"/>
<text x="1829.8" y="2088.8" text-anchor="middle" class="tk">10</text>
<line x1="1911.6" x2="1911.6" y1="2048.3" y2="2059.8" stroke="#333333" stroke-width="3.5"/>
<text x="1911.6" y="2088.8" text-anchor="middle" class="tk">11</text>
<line x1="1993.4" x2="1993.4" y1="2048.3" y2="2059.8" stroke="#333333" stroke-width="3.5"/>
<text x="1993.4" y="2088.8" text-anchor="middle" class="tk">12</text>
<line x1="2075.2" x2="2075.2" y1="2048.3" y2="2059.8" stroke="#333333" stroke-width="3.5"/>
<text x="2075.2" y="2088.8" text-anchor="middle" class="tk">13</text>
<text class="ti" text-anchor="middle" x="1462.4" y="2122.5">days from symptom onset</text>
</svg></body></html>
